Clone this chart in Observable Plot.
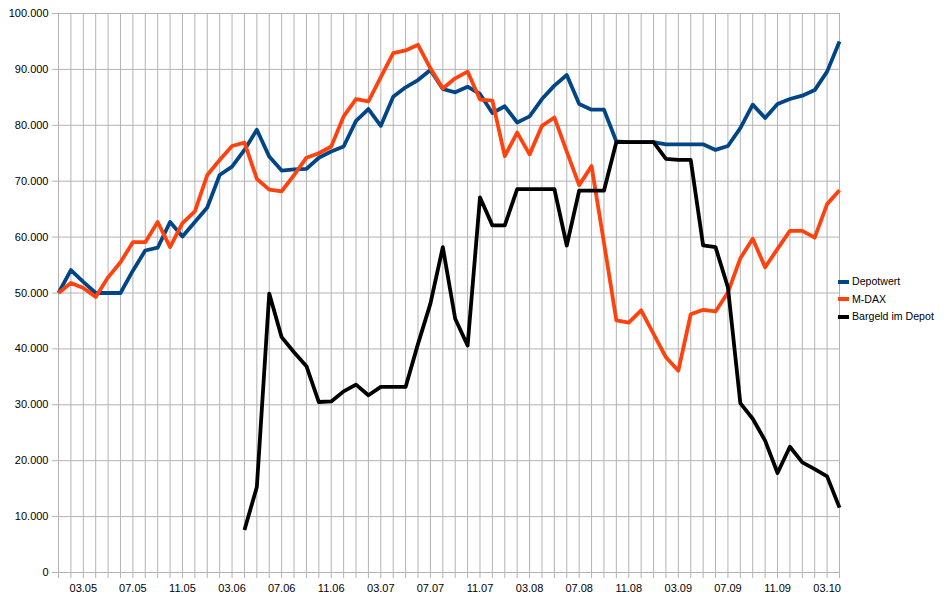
<!DOCTYPE html>
<html>
<head>
<meta charset="utf-8">
<script src="https://cdn.jsdelivr.net/npm/d3@7"></script>
<script src="https://cdn.jsdelivr.net/npm/@observablehq/plot@0.6"></script>
<style>
  html, body { margin: 0; padding: 0; background: #fff; }
  #wrap { position: relative; width: 947px; height: 604px; font-family: "Liberation Sans", Arial, sans-serif; }
  #legend { position: absolute; left: 838px; top: 273px; font-size: 10.6px; color: #000; }
  #legend .row { height: 17.5px; line-height: 17.5px; white-space: nowrap; display: flex; align-items: center; }
  #legend .sw { display: inline-block; width: 11px; height: 4px; margin-right: 3px; }
</style>
</head>
<body>
<div id="wrap"><div id="legend"></div></div>
<script>
const months = ["01.05","02.05","03.05","04.05","05.05","06.05","07.05","08.05","09.05","10.05","11.05","12.05",
  "01.06","02.06","03.06","04.06","05.06","06.06","07.06","08.06","09.06","10.06","11.06","12.06",
  "01.07","02.07","03.07","04.07","05.07","06.07","07.07","08.07","09.07","10.07","11.07","12.07",
  "01.08","02.08","03.08","04.08","05.08","06.08","07.08","08.08","09.08","10.08","11.08","12.08",
  "01.09","02.09","03.09","04.09","05.09","06.09","07.09","08.09","09.09","10.09","11.09","12.09",
  "01.10","02.10","03.10","04.10"];
const tickLabels = ["03.05","07.05","11.05","03.06","07.06","11.06","03.07","07.07","11.07","03.08","07.08","11.08","03.09","07.09","11.09","03.10"];
const yTicks = [0,10000,20000,30000,40000,50000,60000,70000,80000,90000,100000];

const depotwert = [50000,54100,52000,50000,50000,50000,54000,57600,58100,62700,60100,62700,
  65300,71100,72600,75600,79200,74400,71900,72100,72200,74200,75300,76200,
  80800,82900,79900,85100,86800,88100,89900,86500,85900,86900,85600,82200,
  83400,80500,81600,84700,87100,89000,83800,82800,82800,77100,77000,77000,
  77000,76600,76600,76600,76600,75600,76300,79500,83700,81300,83800,84700,
  85300,86300,89600,95000];
const mdax = [50000,51800,50900,49300,52800,55500,59100,59100,62700,58200,62500,64600,
  71100,73800,76300,76900,70400,68500,68200,71100,74200,75000,76200,81600,
  84700,84300,88600,92900,93400,94400,90200,86600,88400,89600,84600,84400,
  74500,78700,74800,79900,81400,75300,69300,72700,59000,45100,44700,46900,
  42700,38500,36100,46200,47000,46700,50100,56200,59700,54600,57900,61100,
  61100,59900,65900,68400];
const bargeld = [null,null,null,null,null,null,null,null,null,null,null,null,
  null,null,null,7600,15300,49900,42100,39400,36900,30500,30600,32400,
  33600,31700,33200,33200,33200,40900,48100,58200,45400,40600,67100,62100,
  62100,68600,68600,68600,68600,58500,68300,68300,68300,77000,77000,77000,
  77000,74000,73800,73800,58500,58200,51000,30300,27500,23600,17800,22500,
  19700,18500,17200,11600];

const seriesNames = ["Depotwert","M-DAX","Bargeld im Depot"];
const seriesColors = ["#004586","#ff420e","#000000"];
const seriesValues = [depotwert, mdax, bargeld];

const rows = [];
seriesNames.forEach((name, s) => {
  seriesValues[s].forEach((v, i) => {
    if (v != null) rows.push({series: name, i, month: months[i], value: v});
  });
});

const idx = months.map((m, i) => i);
const labelIdx = tickLabels.map(l => months.indexOf(l));
const de = d3.formatLocale({decimal: ",", thousands: ".", grouping: [3], currency: ["", "€"]});
const fmt = de.format(",d");

const chart = Plot.plot({
  width: 947,
  height: 604,
  marginLeft: 58,
  marginRight: 108,
  marginTop: 13,
  marginBottom: 32,
  style: {fontFamily: "Liberation Sans, Arial, sans-serif", fontSize: "11px", background: "#fff", overflow: "visible"},
  x: {type: "linear", domain: [0, months.length - 1]},
  y: {domain: [0, 100000]},
  color: {domain: seriesNames, range: seriesColors},
  marks: [
    Plot.gridX(idx, {stroke: "#b3b3b3", strokeOpacity: 1, strokeWidth: 1}),
    Plot.gridY(yTicks, {stroke: "#b3b3b3", strokeOpacity: 1, strokeWidth: 1}),
    Plot.axisY(yTicks, {tickFormat: fmt, tickSize: 6, tickPadding: 4, stroke: "#b3b3b3", fill: "#000", label: null}),
    Plot.axisX(idx, {tickFormat: () => "", tickSize: 6, stroke: "#b3b3b3", label: null}),
    Plot.axisX(labelIdx, {tickFormat: i => months[i], tickSize: 0, tickPadding: 12, fill: "#000", label: null}),
    Plot.line(rows, {x: "i", y: "value", z: "series", stroke: "series", strokeWidth: 3.8, strokeLinejoin: "round", strokeLinecap: "butt"})
  ]
});
const wrap = document.getElementById("wrap");
chart.style.position = "absolute";
chart.style.left = "0";
chart.style.top = "0";
wrap.insertBefore(chart, wrap.firstChild);

const legend = document.getElementById("legend");
seriesNames.forEach((name, s) => {
  const row = document.createElement("div");
  row.className = "row";
  const sw = document.createElement("span");
  sw.className = "sw";
  sw.style.background = seriesColors[s];
  row.appendChild(sw);
  row.appendChild(document.createTextNode(name));
  legend.appendChild(row);
});
</script>
</body>
</html>
